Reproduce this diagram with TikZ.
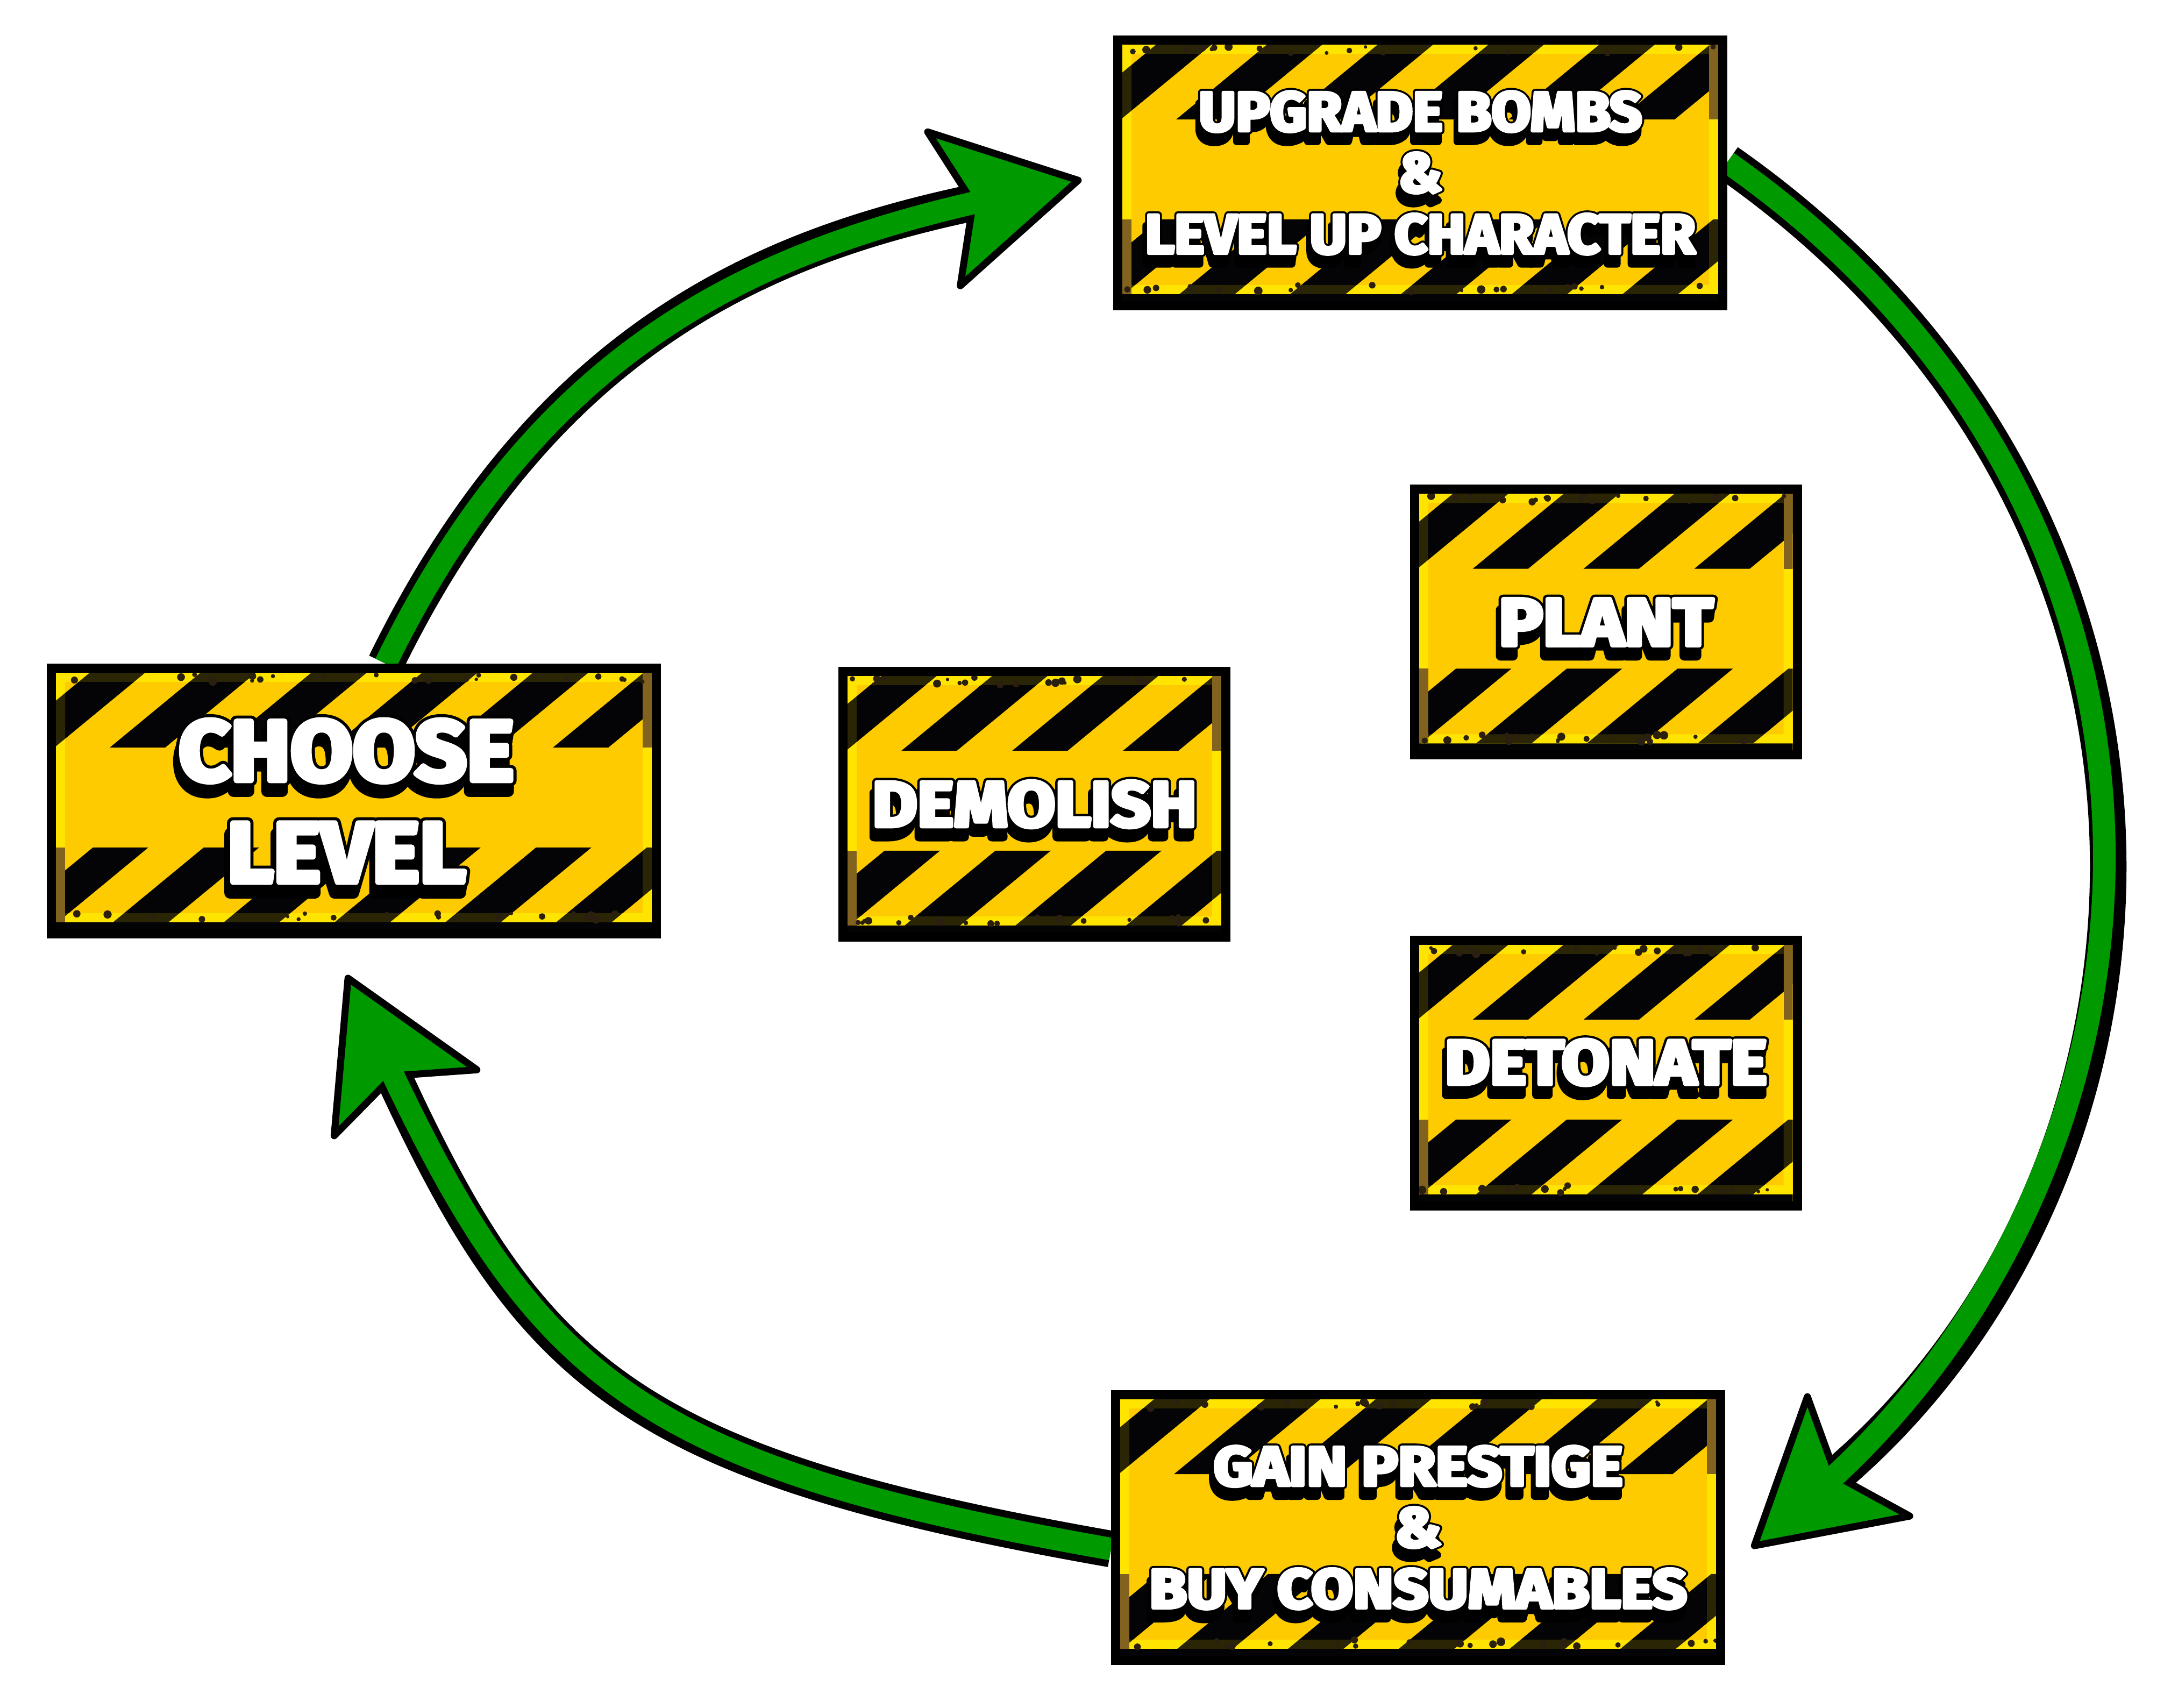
\documentclass[tikz,border=0pt]{standalone}
\usepackage{fontspec}
\usetikzlibrary{arrows.meta,positioning}

\newfontfamily\facefont{Fira Sans}[UprightFont={* Bold}, FakeBold=6]
\newfontfamily\rimfont{Fira Sans}[UprightFont={* Bold}, FakeBold=13]

\definecolor{signyellow}{RGB}{253,203,0}
\definecolor{signbright}{RGB}{255,228,0}
\definecolor{stripeblack}{RGB}{4,4,6}
\definecolor{grunge}{RGB}{43,31,16}
\definecolor{rust}{RGB}{107,76,36}
\definecolor{flowgreen}{RGB}{0,154,0}

\pgfdeclarelayer{back}
\pgfsetlayers{back,main}

% warning board filling, #1 x #2 = outer size of the board in cm
\newcommand\hazardfill[2]{%
  \begin{scope}[shift={(path picture bounding box.center)}]
    \pgfmathsetmacro\hzw{#1/2-0.17}
    \pgfmathsetmacro\hzh{#2/2-0.17}
    \pgfmathsetmacro\hzb{-\hzh+0.13}
    \pgfmathsetmacro\hzband{0.3*(\hzh-\hzb)}
    \pgfmathsetmacro\hzslant{1.213*\hzband}
    \clip (-\hzw,-\hzh) rectangle (\hzw,\hzh);
    \fill[stripeblack] (-\hzw,-\hzh) rectangle (\hzw,\hzb);
    \fill[signbright,even odd rule] (-\hzw,\hzb) rectangle (\hzw,\hzh)
      (-\hzw+0.17,\hzb+0.17) rectangle (\hzw-0.17,\hzh-0.17);
    \foreach \k in {-2,...,7}{
      \fill[stripeblack] ({-\hzw+1.0+2.06*\k},{\hzh-\hzband}) -- ++(1.03,0)
        -- ++(\hzslant,\hzband) -- ++(-1.03,0) -- cycle;
      \fill[stripeblack] ({-\hzw+0.69+2.06*\k},{\hzb+\hzband}) -- ++(1.03,0)
        -- ++(-\hzslant,-\hzband) -- ++(-1.03,0) -- cycle;
    }
    \fill[rust] (-\hzw,\hzb) rectangle (-\hzw+0.17,\hzb+\hzband);
    \fill[rust] (\hzw-0.17,\hzh-\hzband) rectangle (\hzw,\hzh);
    \fill[signbright,fill opacity=0.15,even odd rule] (-\hzw,\hzb) rectangle (\hzw,\hzh)
      (-\hzw+0.17,\hzb+0.17) rectangle (\hzw-0.17,\hzh-0.17);
    % grime along the edges
    \foreach \n in {1,...,22}{
      \fill[grunge] ({\hzw*rand},{\hzh-0.1+0.07*rand}) circle ({0.03+0.05*rnd});
      \fill[grunge] ({\hzw*rand},{\hzb+0.1+0.07*rand}) circle ({0.03+0.05*rnd});
    }
  \end{scope}}

% white lettering with black rim and drop shadow:
% [offset] box, size, skip, stretch, text
\newcommand\signlabel[6][{0,0}]{%
  \node[signrim, xscale=#5, font={\rimfont\fontsize{#3}{#4}\selectfont}]
    at ([shift={(#1)}, shift={(-0.05,-0.2)}]#2.center) {#6};
  \node[signrim, xscale=#5, font={\rimfont\fontsize{#3}{#4}\selectfont}]
    at ([shift={(#1)}]#2.center) {#6};
  \node[signface, xscale=#5, font={\facefont\fontsize{#3}{#4}\selectfont}] (#2-text)
    at ([shift={(#1)}]#2.center) {#6};
}

\tikzset{
  hazard/.style 2 args={draw=black, line width=0.17cm, fill=signyellow, inner sep=0pt,
    minimum width=#1cm-0.17cm, minimum height=#2cm-0.17cm,
    path picture={\hazardfill{#1}{#2}}},
  bigsign/.style={hazard={11.42}{5.11}},
  smallsign/.style={hazard={7.29}{5.11}},
  signrim/.style={text=black, align=center, inner sep=0pt, transform shape,
    line join=round, miter limit=1},
  signface/.style={text=white, align=center, inner sep=0pt, transform shape,
    line join=round, miter limit=1},
  flowrim/.style={draw=black, line width=0.68cm,
    -{Stealth[length=2.8cm, width=3.2cm, inset=0.6cm, line width=0.13cm, round, fill=flowgreen]}},
  flowcore/.style={draw=flowgreen, line width=0.42cm},
}

\begin{document}
\begin{tikzpicture}
  \pgfmathsetseed{11}
  \useasboundingbox (0,0) rectangle (40.24,31.76);

  \node[bigsign] (choose) at (6.58,16.865) {};
  \node[smallsign] (demolish) at (19.235,16.805) {};
  \node[bigsign] (upgrade) at (26.41,28.545) {};
  \node[smallsign] (plant) at (29.86,20.19) {};
  \node[smallsign] (detonate) [below=8.385cm of plant.center, anchor=center] {};
  \node[bigsign] (gain) at (26.37,3.355) {};

  \signlabel[-0.14,0]{choose}{45.4}{53.8}{1.05}{CHOOSE\\LEVEL}
  \signlabel{demolish}{33.9}{38}{1.08}{DEMOLISH}
  \signlabel{plant}{35.5}{40}{1.1}{PLANT}
  \signlabel[0,0.2]{detonate}{33.4}{38}{1.1}{DETONATE}
  \signlabel{upgrade}{29.3}{32.4}{1.03}{UPGRADE BOMBS\\\&\\LEVEL UP CHARACTER}
  \signlabel{gain}{29.3}{32.4}{1.1}{GAIN PRESTIGE\\\&\\BUY CONSUMABLES}

  \begin{pgfonlayer}{back}
    \fill[white] (0,0) rectangle (40.24,31.76);
    \foreach \a/\b/\o/\i/\l/\s in {choose.77/upgrade.west/64/192/1.05/0.6cm,
        upgrade.2/gain.-8/-35/40.6/1.13/0.65cm,
        gain.184/choose.260/170/-65.2/1.25/0.75cm}{
      \draw[flowrim, shorten >=\s] (\a) to[out=\o, in=\i, looseness=\l] (\b);
      \draw[flowcore, shorten >=\s+1.4cm] (\a) to[out=\o, in=\i, looseness=\l] (\b);
    }
  \end{pgfonlayer}
\end{tikzpicture}
\end{document}
